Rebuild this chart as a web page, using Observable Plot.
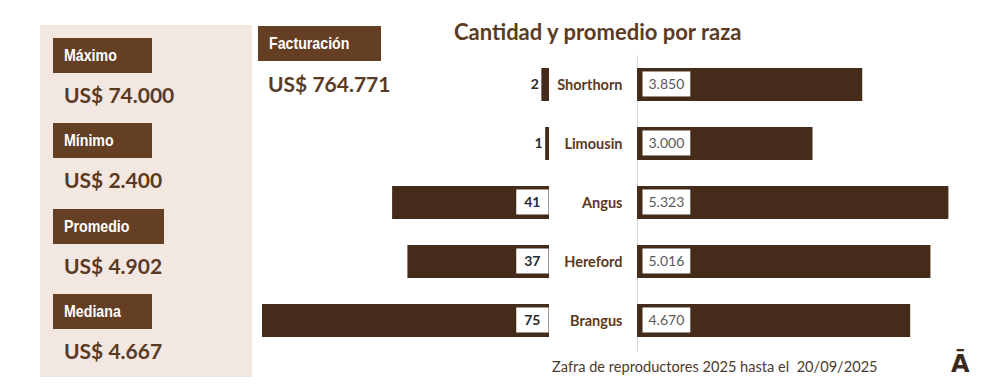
<!DOCTYPE html>
<html>
<head>
<meta charset="utf-8">
<script src="https://cdn.jsdelivr.net/npm/d3@7"></script>
<script src="https://cdn.jsdelivr.net/npm/@observablehq/plot@0.6"></script>
<style>
  html, body { margin: 0; padding: 0; background: #ffffff; }
  #wrap { position: relative; width: 989px; height: 392px; overflow: hidden; font-family: Lato, "Open Sans", sans-serif; }
  .abs { position: absolute; white-space: pre; line-height: 1; }
  .panel { position: absolute; left: 40px; top: 25px; width: 212px; height: 352px; background: #f3e7e1; }
  .tag { position: absolute; height: 35px; background: #643f23; box-sizing: border-box; }
  .tag span { position: absolute; left: 11px; top: 0; line-height: 35px; color: #ffffff; font-family: "Liberation Sans", Arial, sans-serif; font-weight: bold; font-size: 16.5px; transform: scaleX(0.86); transform-origin: 0 50%; white-space: pre; }
  .val { position: absolute; color: #5a3a22; font-family: Lato, sans-serif; font-weight: bold; font-size: 21px; line-height: 1; white-space: pre; }
  .plotbox { position: absolute; top: 0; }
  .plotbox svg { max-width: none !important; overflow: visible; }
</style>
</head>
<body>
<div id="wrap"></div>
<script>
// ---------- data ----------
const breeds = ["Shorthorn", "Limousin", "Angus", "Hereford", "Brangus"];
const counts = [2, 1, 41, 37, 75];
const averages = [3850, 3000, 5323, 5016, 4670];
const statNames = ["Máximo", "Mínimo", "Promedio", "Mediana"];
const statValues = ["US$ 74.000", "US$ 2.400", "US$ 4.902", "US$ 4.667"];
const revenueName = "Facturación";
const revenueValue = "US$ 764.771";
const titleText = "Cantidad y promedio por raza";
const footerText = "Zafra de reproductores 2025 hasta el  20/09/2025";
const logoText = "Ā";

// ---------- styling constants ----------
const BAR = "#452b1a";
const BROWN = "#5a3a22";

const rows = breeds.map((b, i) => ({breed: b, count: counts[i], avg: averages[i]}));
const fmt = d3.formatLocale({decimal: ",", thousands: ".", grouping: [3], currency: ["US$ ", ""]}).format(",d");

const wrap = document.getElementById("wrap");

// ---------- left summary panel ----------
const panel = document.createElement("div");
panel.className = "panel";
wrap.appendChild(panel);

function addTag(name, left, top, width) {
  const t = document.createElement("div");
  t.className = "tag";
  t.style.left = left + "px"; t.style.top = top + "px"; t.style.width = width + "px";
  const s = document.createElement("span");
  s.textContent = name;
  t.appendChild(s);
  wrap.appendChild(t);
}
function addVal(text, left, top) {
  const v = document.createElement("div");
  v.className = "val";
  v.style.left = left + "px"; v.style.top = top + "px";
  v.textContent = text;
  wrap.appendChild(v);
}

const tagTops = [38, 123, 209, 294];
const tagWidths = [99, 99, 111, 99];
const valTops = [84, 169, 255, 340];
statNames.forEach((name, i) => {
  addTag(name, 53, tagTops[i], tagWidths[i]);
  addVal(statValues[i], 64, valTops[i]);
});
addTag(revenueName, 258, 26, 123);
addVal(revenueValue, 268, 73);

// title
{
  const d = document.createElement("div");
  d.className = "abs";
  d.style.left = "454px"; d.style.top = "21px";
  d.style.fontSize = "22px"; d.style.fontWeight = "bold"; d.style.color = "#5b3b24";
  d.textContent = titleText;
  wrap.appendChild(d);
}
// footer
{
  const d = document.createElement("div");
  d.className = "abs";
  d.style.left = "552px"; d.style.top = "360px";
  d.style.fontSize = "14.6px"; d.style.color = "#4a3b31";
  d.textContent = footerText;
  wrap.appendChild(d);
}
// logo
{
  const d = document.createElement("div");
  d.className = "abs";
  d.style.left = "951px"; d.style.top = "352px";
  d.style.fontSize = "24px"; d.style.fontWeight = "900"; d.style.color = "#3b2a1e";
  d.style.fontFamily = "'DejaVu Sans', sans-serif";
  d.textContent = logoText;
  wrap.appendChild(d);
}

// ---------- charts ----------
const H = 392, MT = 42, MB = 29, PAD = 0.44;

const leftPlot = Plot.plot({
  width: 387, height: H,
  marginLeft: 12, marginRight: 88, marginTop: MT, marginBottom: MB,
  x: {domain: [0, d3.max(counts)], reverse: true, axis: null},
  y: {domain: breeds, padding: PAD, axis: null},
  style: {background: "transparent", fontFamily: "Lato, sans-serif"},
  marks: [
    Plot.barX(rows, {x: "count", y: "breed", fill: BAR}),
    Plot.text(rows.filter(d => d.count >= 10), {
      frameAnchor: "right", y: "breed", text: d => String(d.count),
      textAnchor: "end", dx: -9, fontWeight: "bold", fontSize: 14, fill: "#2b2b2b"
    }),
    Plot.text(rows.filter(d => d.count < 10), {
      x: "count", y: "breed", text: d => String(d.count),
      textAnchor: "end", dx: -3, fontWeight: "bold", fontSize: 14, fill: "#2b2b2b"
    })
  ]
});

const rightPlot = Plot.plot({
  width: 440, height: H,
  marginLeft: 88, marginRight: 1, marginTop: MT, marginBottom: MB,
  x: {domain: [0, 6000], axis: null},
  y: {domain: breeds, padding: PAD, label: null},
  style: {background: "transparent", fontFamily: "Lato, sans-serif", color: BROWN},
  marks: [
    Plot.ruleX([0], {stroke: "#d9d9d9", insetTop: 13, insetBottom: 11}),
    Plot.barX(rows, {x: "avg", y: "breed", fill: BAR}),
    Plot.axisY({tickSize: 0, tickPadding: 15, fontWeight: "bold", fontSize: 14.5, label: null}),
    Plot.text(rows, {
      frameAnchor: "left", y: "breed", text: d => fmt(d.avg),
      textAnchor: "start", dx: 11, fontSize: 14, fill: "#595959"
    })
  ]
});

function place(svg, left) {
  const box = document.createElement("div");
  box.className = "plotbox";
  box.style.left = left + "px";
  box.appendChild(svg);
  wrap.appendChild(box);
}
place(leftPlot, 250);
place(rightPlot, 549);

// white label boxes behind the value texts
function addBoxes(svg, labels, padL, padR, h) {
  const set = new Set(labels);
  const texts = Array.from(svg.querySelectorAll("text")).filter(t => set.has(t.textContent));
  texts.forEach(t => {
    const bb = t.getBBox();
    const cy = bb.y + bb.height / 2;
    const r = document.createElementNS("http://www.w3.org/2000/svg", "rect");
    r.setAttribute("x", bb.x - padL);
    r.setAttribute("y", cy - h / 2);
    r.setAttribute("width", bb.width + padL + padR);
    r.setAttribute("height", h);
    r.setAttribute("fill", "#ffffff");
    r.setAttribute("stroke", "none");
    const tr = t.getAttribute("transform");
    if (tr) r.setAttribute("transform", tr);
    t.parentNode.insertBefore(r, t);
  });
}
addBoxes(leftPlot, counts.filter(c => c >= 10).map(String), 8, 8, 25);
addBoxes(rightPlot, averages.map(fmt), 6, 6, 25);
</script>
</body>
</html>
